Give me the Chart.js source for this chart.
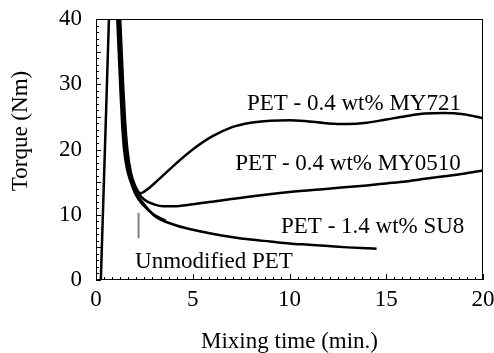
<!DOCTYPE html>
<html>
<head>
<meta charset="utf-8">
<script src="https://cdn.jsdelivr.net/npm/chart.js@4"></script>
<style>
  body { margin: 0; background: #fff; }
</style>
</head>
<body>
<canvas id="chart" width="494" height="353"></canvas>
<script>
// initial loading peak
const loadTime = [0.25, 0.67];
const loadTorque = [0, 40];

// PET - 0.4 wt% MY721
const my721Time = [1.25, 1.4, 1.5, 1.62, 1.8, 2.0, 2.3, 2.7, 3.2, 4, 5, 6, 7, 8, 9, 10, 11, 12, 13, 14, 15, 16, 17, 18, 19, 20];
const my721Torque = [40, 30, 24.5, 20, 16.5, 14.6, 13.3, 14, 15.3, 17.5, 20, 22, 23.4, 24.1, 24.4, 24.5, 24.3, 24, 23.9, 24.1, 24.6, 25.1, 25.5, 25.6, 25.4, 24.8];

// PET - 0.4 wt% MY0510
const my0510Time = [1.2, 1.35, 1.45, 1.55, 1.7, 1.9, 2.2, 2.5, 3, 3.5, 4, 5, 6, 7, 8, 10, 12, 14, 15, 16, 17, 18, 19, 20];
const my0510Torque = [40, 30, 24, 20, 17, 15, 13.3, 12.3, 11.6, 11.3, 11.3, 11.6, 12.0, 12.4, 12.8, 13.5, 14.0, 14.5, 14.8, 15.1, 15.5, 15.9, 16.3, 16.8];

// PET - 1.4 wt% SU8
const su8Time = [1.15, 1.3, 1.4, 1.5, 1.65, 1.85, 2.1, 2.4, 3, 4, 5, 6, 7, 8, 9, 10, 11, 12, 13, 14, 14.5];
const su8Torque = [40, 30, 24, 20, 17, 15, 13.2, 11.9, 9.9, 8.5, 7.7, 7.1, 6.6, 6.2, 5.9, 5.6, 5.4, 5.2, 5.0, 4.85, 4.8];

// Unmodified PET
const unmodTime = [1.1, 1.25, 1.35, 1.45, 1.6, 1.8, 2.05, 2.4, 3, 3.6];
const unmodTorque = [40, 30, 24, 20, 17, 15, 13.1, 11.6, 10.0, 9.1];

// pointer to the unmodified curve
const pointerTime = [2.2, 2.2];
const pointerTorque = [10.3, 6.4];

const xTicks = [0, 5, 10, 15, 20];
const yTicks = [0, 10, 20, 30, 40];

const toPoints = (xs, ys) => xs.map((v, i) => ({x: v, y: ys[i]}));

const curve = (label, xs, ys, color, width) => ({
    label: label,
    data: toPoints(xs, ys),
    borderColor: color,
    borderWidth: width,
    pointRadius: 0,
    showLine: true,
    cubicInterpolationMode: 'monotone',
    fill: false
});

// label anchors in data units (left, baseline)
const notes = [
    {text: 'PET - 0.4 wt% MY721', x: 7.8, y: 26.1},
    {text: 'PET - 0.4 wt% MY0510', x: 7.2, y: 16.9},
    {text: 'PET - 1.4 wt% SU8', x: 9.56, y: 7.2},
    {text: 'Unmodified PET', x: 2.02, y: 1.84}
];

const serif = "'Liberation Serif', 'Times New Roman', serif";

const decor = {
    id: 'decor',
    afterDatasetsDraw(chart) {
        const {ctx, chartArea: a, scales: {x, y}} = chart;
        ctx.save();
        ctx.strokeStyle = '#000';
        ctx.lineWidth = 1;
        ctx.strokeRect(a.left + 0.5, a.top + 0.5, a.right - a.left - 1, a.bottom - a.top - 1);
        ctx.beginPath();
        // inward ticks, y every 1, longer every 5
        for (let v = 0; v <= 40; v++) {
            const py = Math.round(y.getPixelForValue(v)) + 0.5;
            const len = v % 5 === 0 ? 5 : 3;
            ctx.moveTo(a.left, py);
            ctx.lineTo(a.left + len, py);
        }
        // x ticks twelve per 5 minutes
        for (let i = 0; i <= 48; i++) {
            const px = Math.round(x.getPixelForValue(i * 5 / 12)) + 0.5;
            const len = i % 12 === 0 ? 6 : 3;
            ctx.moveTo(px, a.bottom);
            ctx.lineTo(px, a.bottom - len);
        }
        ctx.stroke();

        ctx.fillStyle = '#000';
        ctx.font = '23px ' + serif;
        ctx.textAlign = 'left';
        ctx.textBaseline = 'alphabetic';
        notes.forEach(n => ctx.fillText(n.text, x.getPixelForValue(n.x), y.getPixelForValue(n.y)));

        // y axis title
        ctx.translate(21, 131);
        ctx.rotate(-Math.PI / 2);
        ctx.textAlign = 'center';
        ctx.textBaseline = 'middle';
        ctx.fillText('Torque (Nm)', 0, 0);
        ctx.restore();
    }
};

Chart.defaults.font.family = serif;
Chart.defaults.font.size = 23;
Chart.defaults.color = '#000';

const config = {
    type: 'scatter',
    data: {
        datasets: [
            curve('load', loadTime, loadTorque, '#000', 2.5),
            curve('PET - 0.4 wt% MY721', my721Time, my721Torque, '#000', 2.5),
            curve('PET - 0.4 wt% MY0510', my0510Time, my0510Torque, '#000', 2.5),
            curve('PET - 1.4 wt% SU8', su8Time, su8Torque, '#000', 2.5),
            curve('Unmodified PET', unmodTime, unmodTorque, '#000', 2.5),
            curve('pointer', pointerTime, pointerTorque, '#808080', 2)
        ]
    },
    options: {
        responsive: false,
        animation: false,
        layout: {
            padding: {top: 19, right: 11, left: 0, bottom: 0}
        },
        plugins: {
            legend: {display: false},
            tooltip: {enabled: false}
        },
        scales: {
            x: {
                type: 'linear',
                min: 0,
                max: 20,
                afterFit: s => { s.height = 73; s.paddingLeft = 0; s.paddingRight = 0; },
                afterBuildTicks: s => { s.ticks = xTicks.map(v => ({value: v})); },
                grid: {display: false, drawTicks: false},
                border: {display: false},
                ticks: {padding: 6, maxRotation: 0},
                title: {
                    display: true,
                    text: 'Mixing time (min.)',
                    font: {size: 23, lineHeight: 1},
                    padding: 0
                }
            },
            y: {
                type: 'linear',
                min: 0,
                max: 40,
                afterFit: s => { s.width = 96; s.paddingTop = 0; s.paddingBottom = 0; },
                afterBuildTicks: s => { s.ticks = yTicks.map(v => ({value: v})); },
                grid: {display: false, drawTicks: false},
                border: {display: false},
                ticks: {padding: 14}
            }
        }
    },
    plugins: [decor]
};

const myChart = new Chart(document.getElementById('chart'), config);
</script>
</body>
</html>
